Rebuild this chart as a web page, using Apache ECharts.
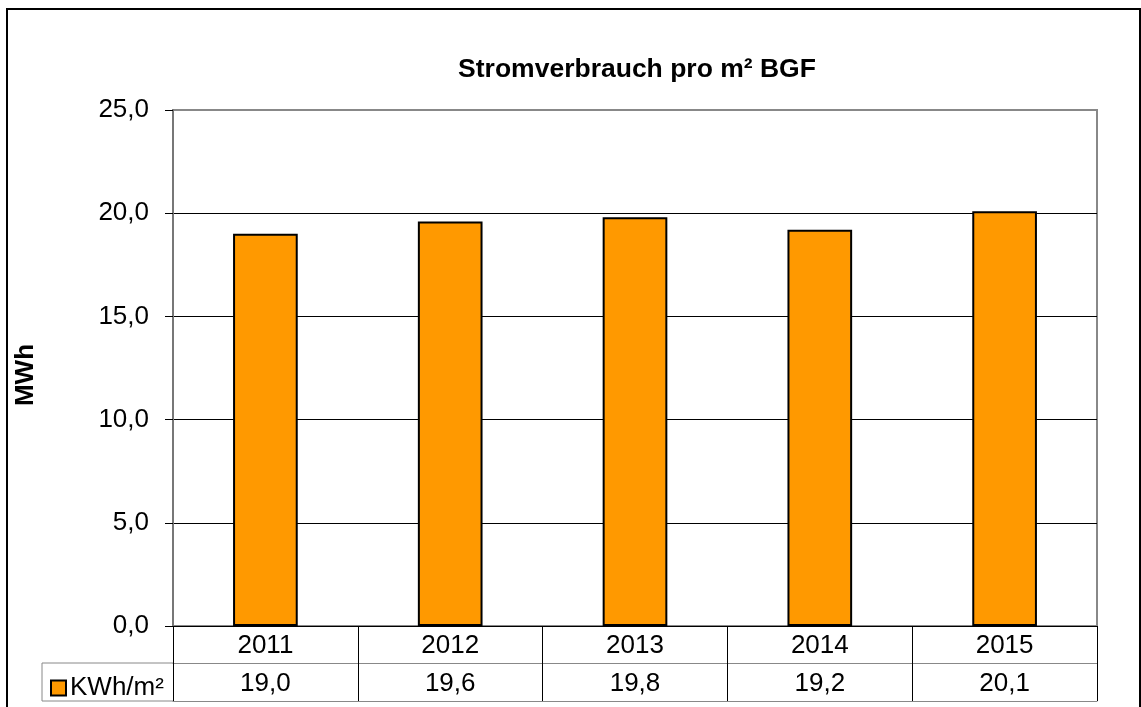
<!DOCTYPE html>
<html>
<head>
<meta charset="utf-8">
<script src="https://cdn.jsdelivr.net/npm/echarts@6/dist/echarts.min.js"></script>
<style>
  html, body { margin: 0; padding: 0; background: #fff; }
  #chart { width: 1141px; height: 707px; }
</style>
</head>
<body>
<div id="chart"></div>
<script>
// Daten
var years = ['2011', '2012', '2013', '2014', '2015'];
var kwhProM2 = [19.0, 19.6, 19.8, 19.2, 20.1];
var seriesName = 'KWh/m²';
var yMin = 0, yMax = 25, yStep = 5;

var FONT = '"Liberation Sans", Arial, sans-serif';
var FS = 26;
// Plotbereich (px)
var G = { left: 173, top: 110, right: 1097, bottom: 626 };
var ROW = 37;

function komma(v) { return v.toFixed(1).replace('.', ','); }

var chart = echarts.init(document.getElementById('chart'));
chart.setOption({
  animation: false,
  textStyle: { fontFamily: FONT },
  title: {
    text: 'Stromverbrauch pro m² BGF',
    left: 632,
    textAlign: 'center',
    top: 51,
    textStyle: { fontSize: 26.5, fontWeight: 'bold', color: '#000', fontFamily: FONT }
  },
  legend: {
    left: 45, top: 670,
    itemWidth: 15, itemHeight: 15, itemGap: 4,
    icon: 'rect',
    textStyle: { fontSize: FS, color: '#000', fontFamily: FONT, padding: [0, 0, 0, -1] },
    data: [seriesName]
  },
  grid: {
    left: G.left, top: G.top, right: 1141 - G.right, bottom: 707 - G.bottom,
    show: true, borderColor: '#888', borderWidth: 2
  },
  xAxis: [{
    type: 'category', data: years, position: 'bottom',
    axisLine: { lineStyle: { color: '#000', width: 1 } },
    axisTick: { show: true, alignWithLabel: false, length: ROW, lineStyle: { color: '#000' } },
    axisLabel: { fontSize: FS, color: '#000', margin: 7, fontFamily: FONT },
    splitLine: { show: false }
  }, {
    type: 'category', data: years, position: 'bottom', offset: ROW,
    axisLine: { lineStyle: { color: '#888', width: 1 } },
    axisTick: { show: true, alignWithLabel: false, length: ROW + 1, lineStyle: { color: '#000' } },
    axisLabel: {
      fontSize: FS, color: '#000', margin: 8, fontFamily: FONT,
      formatter: function (v, i) { return komma(kwhProM2[i]); }
    }
  }, {
    type: 'category', data: years, position: 'bottom', offset: 2 * ROW + 1,
    axisLine: { lineStyle: { color: '#888', width: 1 } },
    axisTick: { show: false }, axisLabel: { show: false }
  }],
  yAxis: {
    type: 'value', min: yMin, max: yMax, interval: yStep,
    name: 'MWh', nameLocation: 'middle', nameRotate: 90, nameGap: 134,
    nameTextStyle: { fontSize: FS, fontWeight: 'bold', color: '#000', fontFamily: FONT, padding: [0, 14, 0, 0] },
    axisLine: { show: true, lineStyle: { color: '#777', width: 2 } },
    axisTick: { show: true, length: 8, lineStyle: { color: '#000' } },
    axisLabel: { fontSize: FS, color: '#000', margin: 24, fontFamily: FONT, formatter: komma },
    splitLine: { show: true, lineStyle: { color: ['#000', '#000', '#000', '#000', '#000', '#888'], width: 1 } }
  },
  series: [{
    name: seriesName,
    type: 'bar',
    data: kwhProM2,
    barWidth: '35%',
    itemStyle: { color: '#FF9900', borderColor: '#000', borderWidth: 2 }
  }],
  graphic: [
    // äußerer Rahmen
    { type: 'rect', shape: { x: 7, y: 9, width: 1133, height: 720 },
      style: { fill: null, stroke: '#000', lineWidth: 2 }, silent: true },
    // Legendenzelle der Datentabelle
    { type: 'polyline', shape: { points: [[G.left, G.bottom + ROW], [42, G.bottom + ROW], [42, G.bottom + 2 * ROW + 1], [G.left, G.bottom + 2 * ROW + 1]] },
      style: { fill: null, stroke: '#888', lineWidth: 1 }, silent: true }
  ]
});
</script>
</body>
</html>
